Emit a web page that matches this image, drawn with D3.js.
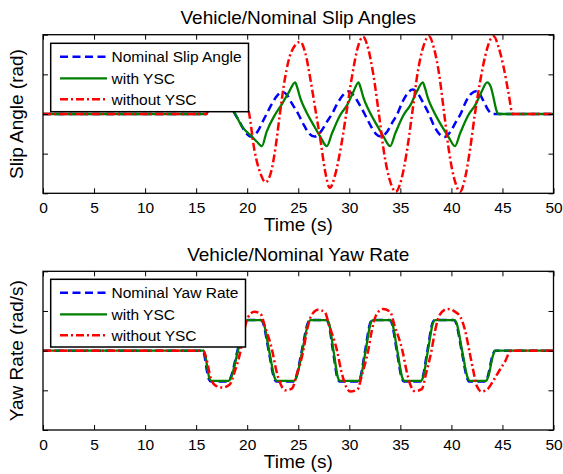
<!DOCTYPE html>
<html>
<head>
<meta charset="utf-8">
<script src="https://cdn.jsdelivr.net/npm/d3@7"></script>
<style>
  html, body { margin: 0; padding: 0; background: #fff; }
  text { font-family: "Liberation Sans", Arial, Helvetica, sans-serif; fill: #000; }
</style>
</head>
<body>
<svg id="fig" width="563" height="474"></svg>
<script>
// ---- shared axis settings ----
const timeTicks = [0, 5, 10, 15, 20, 25, 30, 35, 40, 45, 50];
const valueTicks = [-2, -1, 0, 1, 2];
const timeDomain = [0, 50];
const valueDomain = [-2, 2];

// ---- slip angle (time s, value) ----
const slipNominal = [
  [0,0],[16,0],[16.3,0.22],[17.3,0.52],[18.1,0.3],[18.8,0],[19.3,-0.22],[19.8,-0.45],[20.4,-0.57],
  [21.0,-0.45],[21.5,-0.2],[21.9,0],[22.4,0.25],[22.9,0.45],[23.4,0.56],[23.9,0.48],[24.3,0.3],
  [25.0,0],[25.6,-0.3],[26.1,-0.5],[26.6,-0.57],[27.2,-0.45],[27.8,-0.2],[28.3,0],[28.8,0.25],
  [29.4,0.48],[29.9,0.57],[30.4,0.48],[30.9,0.28],[31.5,0],[32.1,-0.3],[32.6,-0.5],[33.1,-0.57],
  [33.7,-0.45],[34.2,-0.22],[34.7,0],[35.2,0.3],[35.7,0.52],[36.2,0.62],[36.7,0.52],[37.2,0.3],
  [37.8,0],[38.3,-0.3],[38.8,-0.5],[39.3,-0.58],[39.9,-0.45],[40.4,-0.22],[40.9,0],[41.4,0.3],
  [41.9,0.5],[42.5,0.58],[43.1,0.35],[43.6,0.1],[44.1,0],[50,0]
];
const slipWithYSC = [
  [0,0],[16,0],[16.3,0.25],[17.6,0.55],[18.8,0.02],[19.5,-0.32],[20.3,-0.53],[20.95,-0.7],[21.44,-0.81],
  [21.9,-0.45],[22.7,-0.03],[23.4,0.25],[24.1,0.56],[24.7,0.8],[24.92,0.65],[25.2,0.4],[25.7,0.1],
  [26.5,-0.28],[27.15,-0.57],[27.8,-0.81],
  [28.3,-0.49],[29.1,-0.03],[29.8,0.23],[30.4,0.56],[30.9,0.8],[31.12,0.65],[31.4,0.4],[31.9,0.1],
  [32.7,-0.28],[33.35,-0.57],[34.0,-0.81],
  [34.5,-0.49],[35.3,-0.03],[36.0,0.23],[36.6,0.56],[37.2,0.8],[37.42,0.65],[37.7,0.4],[38.2,0.1],
  [39.0,-0.28],[39.7,-0.57],[40.35,-0.81],
  [40.85,-0.49],[41.65,-0.03],[42.35,0.23],[42.95,0.56],[43.5,0.8],[43.85,0.69],[44.1,0.44],
  [44.4,0.1],[44.6,0],[50,0]
];
const slipWithoutYSC = [
  [0,0],[16,0],[16.3,0.3],[17.2,1.0],[18.4,1.25],[19.4,0.7],[20.2,0],
  [20.7,-0.9],[21.3,-1.5],[21.8,-1.72],[22.35,-1.45],[22.8,-0.8],[23.2,0],[23.7,0.9],[24.3,1.55],
  [25.2,1.82],[25.7,1.53],[26.2,0.86],[26.75,0],[27.2,-0.7],[27.6,-1.4],[28.1,-1.86],
  [28.6,-1.55],[29.1,-0.95],[29.7,0],[30.3,1.0],[30.85,1.7],[31.35,1.95],[31.85,1.65],[32.35,1.0],
  [32.9,0],[33.45,-1.05],[34.0,-1.7],[34.55,-1.96],[35.1,-1.65],[35.6,-1.0],[36.15,0],[36.7,1.05],
  [37.25,1.7],[37.8,1.96],[38.3,1.65],[38.8,1.0],[39.3,0],[39.8,-1.0],[40.35,-1.7],[40.85,-1.96],
  [41.35,-1.6],[41.85,-0.85],[42.3,0],[42.8,0.8],[43.3,1.45],[43.8,1.87],[44.15,1.96],[44.6,1.7],
  [45.1,1.2],[45.6,0.52],[46.0,0],[50,0]
];

// ---- yaw rate (time s, value) ----
const yawNominal = [
  [0,0],[15.65,0],[15.8,-0.1],[16.05,-0.5],[16.25,-0.72],[16.45,-0.78],
  [18.15,-0.78],[18.35,-0.7],[19.05,0],[19.75,0.7],[19.95,0.77],
  [21.35,0.77],[21.55,0.7],[22.1,0],[22.65,-0.7],[22.85,-0.78],
  [24.55,-0.78],[24.75,-0.7],[25.35,0],[25.95,0.7],[26.15,0.77],
  [27.75,0.77],[27.95,0.7],[28.4,0],[28.85,-0.7],[29.05,-0.78],
  [30.85,-0.78],[31.05,-0.7],[31.55,0],[32.05,0.7],[32.25,0.77],
  [33.95,0.77],[34.15,0.7],[34.65,0],[35.15,-0.7],[35.35,-0.78],
  [36.95,-0.78],[37.15,-0.7],[37.65,0],[38.15,0.7],[38.35,0.77],
  [40.25,0.77],[40.45,0.7],[41.0,0],[41.55,-0.7],[41.75,-0.78],
  [43.35,-0.78],[43.55,-0.66],[44.05,-0.1],[44.25,0],[50,0]
];
const yawWithYSC = [
  [0,0],[15.7,0],[15.9,-0.12],[16.15,-0.52],[16.3,-0.7],[16.5,-0.76],
  [18.2,-0.76],[18.4,-0.69],[19.1,0],[19.8,0.7],[20.0,0.77],
  [21.4,0.77],[21.6,0.7],[22.15,0],[22.7,-0.69],[22.9,-0.76],
  [24.6,-0.76],[24.8,-0.69],[25.4,0],[26.0,0.7],[26.2,0.77],
  [27.8,0.77],[28.0,0.7],[28.45,0],[28.9,-0.69],[29.1,-0.76],
  [30.9,-0.76],[31.1,-0.69],[31.6,0],[32.1,0.7],[32.3,0.77],
  [34.0,0.77],[34.2,0.7],[34.7,0],[35.2,-0.69],[35.4,-0.76],
  [37.0,-0.76],[37.2,-0.69],[37.7,0],[38.2,0.7],[38.4,0.77],
  [40.3,0.77],[40.5,0.7],[41.05,0],[41.6,-0.69],[41.8,-0.76],
  [43.4,-0.76],[43.6,-0.66],[44.1,-0.1],[44.3,0],[50,0]
];
const yawWithoutYSC = [
  [0,0],[15.7,0],[16.05,-0.25],[16.4,-0.67],[16.9,-0.88],[17.6,-0.93],[18.3,-0.85],[18.75,-0.55],
  [19.35,0],[19.7,0.5],[20.1,0.85],[20.7,0.98],[21.3,0.93],[21.75,0.6],[22.45,0],[22.85,-0.5],
  [23.2,-0.8],[23.75,-1.0],[24.4,-0.95],[24.85,-0.6],[25.5,0],[25.85,0.5],[26.25,0.87],[26.95,1.03],
  [27.6,0.97],[28.05,0.62],[28.8,0],[29.2,-0.5],[29.55,-0.82],[30.1,-1.03],[30.8,-0.98],[31.25,-0.6],
  [31.85,0],[32.2,0.5],[32.6,0.88],[33.3,1.05],[34.0,0.98],[34.45,0.62],[35.2,0],[35.6,-0.5],
  [35.95,-0.84],[36.4,-1.02],[37.1,-0.97],[37.5,-0.6],[38.05,0],[38.4,0.5],[38.85,0.9],[39.6,1.05],
  [40.3,0.99],[40.9,0.84],[41.35,0.5],[41.75,0],[42.1,-0.45],[42.5,-0.9],[42.95,-1.03],[43.5,-0.98],
  [44.1,-0.76],[44.7,-0.5],[45.3,-0.25],[45.8,0],[50,0]
];

const slipLabels = ["Nominal Slip Angle", "with YSC", "without YSC"];
const yawLabels = ["Nominal Yaw Rate", "with YSC", "without YSC"];

// ---- styles ----
const styles = [
  { color: "#0000ff", width: 2.5, dash: "8,4.5" },
  { color: "#008000", width: 2.3, dash: null },
  { color: "#ff0000", width: 2.5, dash: "8,3,2,3" }
];

const svg = d3.select("#fig");
const left = 43, right = 553.5;

const panels = [
  { top: 34.7, bottom: 193.3, title: "Vehicle/Nominal Slip Angles", ylabel: "Slip Angle (rad)",
    series: [slipNominal, slipWithYSC, slipWithoutYSC], labels: slipLabels,
    legend: { x: 50.7, y: 43.3, w: 197.8, h: 68.4 } },
  { top: 271.3, bottom: 430, title: "Vehicle/Nominal Yaw Rate", ylabel: "Yaw Rate (rad/s)",
    series: [yawNominal, yawWithYSC, yawWithoutYSC], labels: yawLabels,
    legend: { x: 50.7, y: 279.3, w: 194.8, h: 67.7 } }
];

panels.forEach((p, pi) => {
  const x = d3.scaleLinear().domain(timeDomain).range([left, right]);
  const y = d3.scaleLinear().domain(valueDomain).range([p.bottom, p.top]);
  const g = svg.append("g");

  const clipId = "clip" + pi;
  svg.append("clipPath").attr("id", clipId)
    .append("rect").attr("x", left).attr("y", p.top)
    .attr("width", right - left).attr("height", p.bottom - p.top);

  const line = d3.line().x(d => x(d[0])).y(d => y(d[1])).curve(d3.curveMonotoneX);

  const lines = g.append("g").attr("clip-path", `url(#${clipId})`);
  p.series.forEach((s, i) => {
    const st = styles[i];
    lines.append("path")
      .datum(s)
      .attr("d", line)
      .attr("fill", "none")
      .attr("stroke", st.color)
      .attr("stroke-width", st.width)
      .attr("stroke-dasharray", st.dash)
      .attr("stroke-linejoin", "round");
  });

  // axes: inward ticks on all four sides
  const xb = g.append("g").attr("transform", `translate(0,${p.bottom})`)
    .call(d3.axisBottom(x).tickValues(timeTicks).tickSizeInner(-5).tickSizeOuter(0).tickPadding(8.7)
      .tickFormat(d3.format("d")));
  xb.selectAll("text").style("font-size", "15.5px");
  const xt = g.append("g").attr("transform", `translate(0,${p.top})`)
    .call(d3.axisTop(x).tickValues(timeTicks).tickSizeInner(-5).tickSizeOuter(0).tickFormat(""));
  const yl = g.append("g").attr("transform", `translate(${left},0)`)
    .call(d3.axisLeft(y).tickValues(valueTicks).tickSizeInner(-5).tickSizeOuter(0).tickFormat(""));
  const yr = g.append("g").attr("transform", `translate(${right},0)`)
    .call(d3.axisRight(y).tickValues(valueTicks).tickSizeInner(-5).tickSizeOuter(0).tickFormat(""));
  [xb, xt, yl, yr].forEach(a => {
    a.select(".domain").remove();
    a.selectAll("line").attr("stroke", "#000").attr("stroke-width", 1);
  });

  // frame
  g.append("rect")
    .attr("x", left).attr("y", p.top)
    .attr("width", right - left).attr("height", p.bottom - p.top)
    .attr("fill", "none").attr("stroke", "#000").attr("stroke-width", 1.3);

  // title and labels
  const cx = (left + right) / 2;
  g.append("text").attr("x", cx).attr("y", p.top - 10.5)
    .attr("text-anchor", "middle").style("font-size", "19px").text(p.title);
  g.append("text").attr("x", cx).attr("y", p.bottom + 38)
    .attr("text-anchor", "middle").style("font-size", "19px").text("Time (s)");
  g.append("text")
    .attr("transform", `translate(22.5,${(p.top + p.bottom) / 2}) rotate(-90)`)
    .attr("text-anchor", "middle").style("font-size", "19px").text(p.ylabel);

  // legend
  const L = p.legend;
  const lg = g.append("g");
  lg.append("rect").attr("x", L.x).attr("y", L.y).attr("width", L.w).attr("height", L.h)
    .attr("fill", "#fff").attr("stroke", "#000").attr("stroke-width", 1.5);
  const rowY = [13.5, 35, 56];
  p.labels.forEach((lab, i) => {
    const st = styles[i];
    const yy = L.y + rowY[i];
    lg.append("line").attr("x1", 60).attr("x2", 107).attr("y1", yy).attr("y2", yy)
      .attr("stroke", st.color).attr("stroke-width", st.width)
      .attr("stroke-dasharray", st.dash);
    lg.append("text").attr("x", 111.5).attr("y", yy + 5.5)
      .style("font-size", "15.5px").text(lab);
  });
});
</script>
</body>
</html>
